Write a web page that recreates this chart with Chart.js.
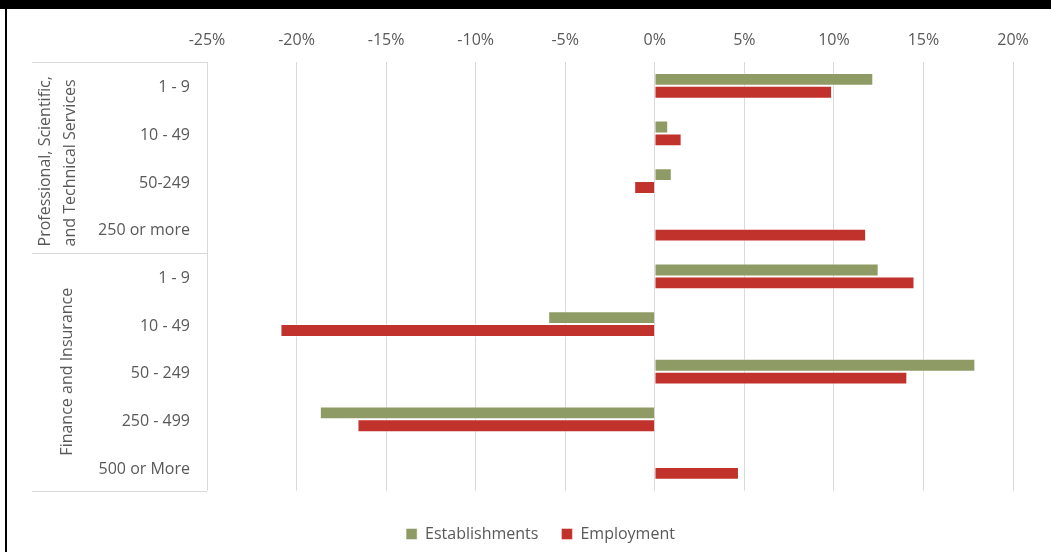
<!DOCTYPE html>
<html>
<head>
<meta charset="utf-8">
<script src="https://cdn.jsdelivr.net/npm/chart.js@4.4.1/dist/chart.umd.min.js"></script>
<style>
  html, body { margin: 0; padding: 0; background: #fff; }
  #wrap { position: relative; width: 1051px; height: 552px; overflow: hidden; background: #fff; }
  #chartBox { position: absolute; left: 28px; top: 9px; width: 1023px; height: 543px; }
  .frameTop { position: absolute; left: 0; top: 0; width: 1051px; height: 9px; background: #000; }
  .frameLeft { position: absolute; left: 5px; top: 0; width: 2px; height: 552px; background: #000; }
</style>
</head>
<body>
<div id="wrap">
  <div id="chartBox"><canvas id="sizeChart"></canvas></div>
  <div class="frameTop"></div>
  <div class="frameLeft"></div>
</div>
<script>
// --- data ---
const sizeClasses = ['1 - 9', '10 - 49', '50-249', '250 or more',
                     '1 - 9', '10 - 49', '50 - 249', '250 - 499', '500 or More'];
const establishments = [12.2, 0.75, 0.95, null, 12.5, -5.95, 17.9, -18.7, null];
const employment = [9.9, 1.5, -1.15, 11.8, 14.5, -20.9, 14.1, -16.6, 4.7];
const industryNames = [['Professional, Scientific,', 'and Technical Services'], ['Finance and Insurance']];
const industryCounts = [4, 5];
const axisMin = -25, axisMax = 20, axisStep = 5;

const textGrey = '#595959';
const lineGrey = '#d9d9d9';
const fontFamily = "'Open Sans', sans-serif";

Chart.defaults.font.family = fontFamily;
Chart.defaults.font.size = 16;
Chart.defaults.color = textGrey;

// industry labels and the divider lines of the two-level category axis
const industryAxis = {
  id: 'industryAxis',
  afterLayout(chart) {
    // nudge the legend a little right of the canvas centre
    chart.legend.left += 20;
    chart.legend.right += 20;
  },
  afterDraw(chart) {
    const y = chart.scales.y;
    const area = chart.chartArea;
    const ctx = chart.ctx;
    const band = y.getPixelForValue(1) - y.getPixelForValue(0);
    const edge = i => y.getPixelForValue(i) - band / 2;
    const x0 = 4;

    ctx.save();
    ctx.strokeStyle = lineGrey;
    ctx.lineWidth = 1;
    let start = 0;
    const cuts = [0];
    industryCounts.forEach(n => { start += n; cuts.push(start); });
    cuts.forEach(i => {
      const py = Math.round(edge(i)) + 0.5;
      ctx.beginPath();
      ctx.moveTo(x0, py);
      ctx.lineTo(area.left, py);
      ctx.stroke();
    });

    // rotated group names, lines left-aligned from a shared start
    ctx.fillStyle = textGrey;
    ctx.font = '16px ' + fontFamily;
    ctx.textAlign = 'left';
    ctx.textBaseline = 'middle';
    const lineX = [[17, 42], [39]];
    industryNames.forEach((lines, g) => {
      const mid = (edge(cuts[g]) + edge(cuts[g + 1])) / 2;
      const widest = Math.max(...lines.map(t => ctx.measureText(t).width));
      const startY = mid + widest / 2 + (lines.length > 1 ? 4 : 0);
      lines.forEach((txt, k) => {
        ctx.save();
        ctx.translate(lineX[g][k], startY);
        ctx.rotate(-Math.PI / 2);
        ctx.fillText(txt, 0, 0);
        ctx.restore();
      });
    });
    ctx.restore();
  }
};

const ctx = document.getElementById('sizeChart').getContext('2d');
new Chart(ctx, {
  type: 'bar',
  data: {
    labels: sizeClasses,
    datasets: [
      {
        label: 'Establishments',
        data: establishments,
        backgroundColor: '#8f9b65',
        borderColor: 'rgba(255,255,255,0.45)',
        borderWidth: 1
      },
      {
        label: 'Employment',
        data: employment,
        backgroundColor: '#c0322b',
        borderColor: 'rgba(255,255,255,0.45)',
        borderWidth: 1
      }
    ]
  },
  options: {
    indexAxis: 'y',
    responsive: true,
    maintainAspectRatio: false,
    animation: false,
    categoryPercentage: 0.54,
    barPercentage: 1,
    layout: { padding: { left: 0, right: 38, top: 0, bottom: 0 } },
    scales: {
      x: {
        type: 'linear',
        position: 'top',
        min: axisMin,
        max: axisMax,
        ticks: {
          stepSize: axisStep,
          padding: 12,
          color: textGrey,
          callback: v => v + '%'
        },
        grid: { color: lineGrey, lineWidth: 1, drawTicks: false },
        border: { display: false },
        afterFit: s => { s.height = 53; }
      },
      y: {
        ticks: { padding: 17, labelOffset: 2, color: textGrey },
        grid: { display: false, drawTicks: false },
        border: { display: false },
        afterFit: s => { s.width = 179; }
      }
    },
    plugins: {
      legend: {
        position: 'bottom',
        title: { display: true, text: '', font: { size: 1 }, padding: { top: 0, bottom: 11 } },
        labels: {
          boxWidth: 11,
          boxHeight: 11,
          padding: 23,
          color: textGrey,
          font: { size: 16 }
        }
      },
      tooltip: { enabled: false }
    }
  },
  plugins: [industryAxis]
});
</script>
</body>
</html>
